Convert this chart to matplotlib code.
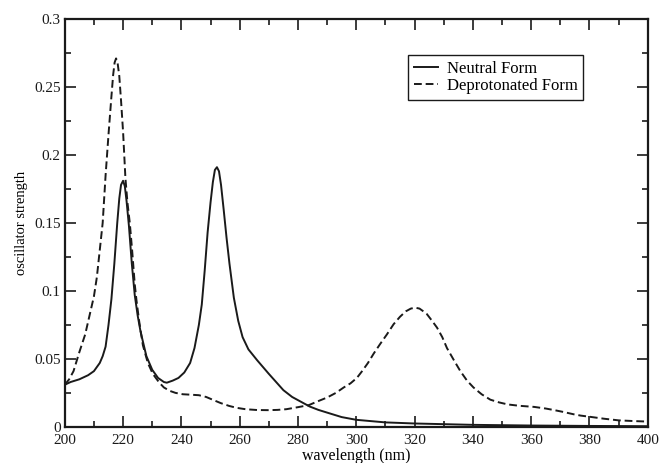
import matplotlib.pyplot as plt
from matplotlib.ticker import MultipleLocator, FuncFormatter

# values
neutral_nm = [200, 202, 205, 208, 210, 212, 213, 214, 215, 216, 217, 218, 218.7, 219.3,
              220, 220.6, 221.2, 222, 223, 224, 225, 226, 228, 230, 232, 234, 235, 237,
              239, 241, 243, 244.5, 246, 247, 248, 249, 250, 250.8, 251.5, 252.2, 252.9,
              253.6, 254.5, 255.5, 256.5, 258, 259.5, 261, 263, 266, 268, 270, 272.5,
              275, 278, 281, 284, 287, 290, 295, 300, 310, 320, 340, 360, 380, 400]
neutral_f = [0.031, 0.033, 0.035, 0.038, 0.041, 0.047, 0.052, 0.059, 0.075, 0.094,
             0.120, 0.150, 0.168, 0.178, 0.181, 0.177, 0.166, 0.148, 0.120, 0.097,
             0.082, 0.070, 0.052, 0.042, 0.036, 0.033, 0.0325, 0.034, 0.036, 0.040,
             0.047, 0.058, 0.075, 0.090, 0.115, 0.143, 0.165, 0.180, 0.189, 0.191,
             0.188, 0.178, 0.160, 0.139, 0.120, 0.095, 0.078, 0.066, 0.057, 0.049,
             0.044, 0.039, 0.033, 0.027, 0.022, 0.0185, 0.015, 0.0125, 0.0105, 0.0072,
             0.0052, 0.0033, 0.0025, 0.0015, 0.001, 0.0007, 0.0005]

deprot_nm = [200, 201.5, 203, 205, 207, 208.5, 210, 211, 212, 213, 214, 215, 216, 216.6,
             217.1, 217.6, 218.1, 218.7, 219.3, 220, 220.8, 221.5, 222.3, 223.1, 224,
             224.6, 225.5, 226.8, 228.5, 230.2, 232.4, 234, 236, 238, 240.5, 243, 246,
             248.5, 250.7, 253.5, 256.4, 259, 262, 266, 270, 273, 276, 280, 283.7, 287,
             290, 293, 295.7, 298, 300.2, 302, 304, 306, 308.2, 310.5, 312.8, 315, 317,
             318.7, 320.2, 321.7, 323, 324.2, 326, 327.7, 329.5, 331.1, 333.5, 335.7,
             338, 340.2, 343, 346, 349, 352, 356, 361, 365, 368, 371, 374.5, 377,
             380.2, 385, 390, 395, 400]
deprot_f = [0.031, 0.035, 0.041, 0.055, 0.068, 0.082, 0.096, 0.110, 0.130, 0.150,
            0.185, 0.215, 0.243, 0.259, 0.268, 0.271, 0.268, 0.258, 0.240, 0.217,
            0.183, 0.165, 0.150, 0.130, 0.105, 0.093, 0.078, 0.060, 0.047, 0.039,
            0.0326, 0.029, 0.0265, 0.025, 0.024, 0.0237, 0.0233, 0.022, 0.020,
            0.0175, 0.0154, 0.014, 0.013, 0.0124, 0.0123, 0.0125, 0.013, 0.0145,
            0.016, 0.019, 0.0216, 0.025, 0.029, 0.032, 0.036, 0.041, 0.047, 0.054,
            0.061, 0.068, 0.0755, 0.081, 0.085, 0.087, 0.0877, 0.087, 0.085, 0.083,
            0.078, 0.073, 0.066, 0.058, 0.049, 0.041, 0.034, 0.029, 0.024, 0.020,
            0.018, 0.0165, 0.0155, 0.0147, 0.0135, 0.0123, 0.011, 0.0093, 0.0083,
            0.0074, 0.006, 0.0048, 0.0043, 0.0039]

plt.rcParams['font.family'] = ['Liberation Serif', 'DejaVu Serif']

fig = plt.figure(figsize=(6.61, 4.63), dpi=100)
ax = fig.add_axes([0.098, 0.078, 0.882, 0.881])

ax.plot(neutral_nm, neutral_f, color='#1a1a1a', lw=1.4, label='Neutral Form')
ax.plot(deprot_nm, deprot_f, color='#1a1a1a', lw=1.4, dashes=(4, 2),
        label='Deprotonated Form')

ax.set_xlim(200, 400)
ax.set_ylim(0, 0.3)
ax.xaxis.set_major_locator(MultipleLocator(20))
ax.xaxis.set_minor_locator(MultipleLocator(10))
ax.yaxis.set_major_locator(MultipleLocator(0.05))
ax.yaxis.set_minor_locator(MultipleLocator(0.025))
ax.yaxis.set_major_formatter(FuncFormatter(lambda v, p: '%g' % round(v, 3)))

ax.tick_params(which='both', direction='in', top=True, right=True,
               labelsize=11, colors='#1a1a1a', width=1.2)
ax.tick_params(which='major', length=8)
ax.tick_params(which='minor', length=4.5)
ax.tick_params(axis='x', which='major', pad=5)
ax.tick_params(axis='y', which='major', pad=3)
for s in ax.spines.values():
    s.set_linewidth(1.6)
    s.set_color('#1a1a1a')

ax.set_xlabel('wavelength (nm)', fontsize=11.5, labelpad=1)
ax.set_ylabel('oscillator strength', fontsize=10.5, labelpad=4)

leg = ax.legend(loc='upper right', bbox_to_anchor=(0.904, 0.932), fontsize=12,
                handlelength=1.4, handletextpad=0.55, borderpad=0.35,
                labelspacing=0.05, fancybox=False, framealpha=1)
leg.get_frame().set_edgecolor('#1a1a1a')
leg.get_frame().set_linewidth(1.0)

fig.savefig('out.png', dpi=100)
